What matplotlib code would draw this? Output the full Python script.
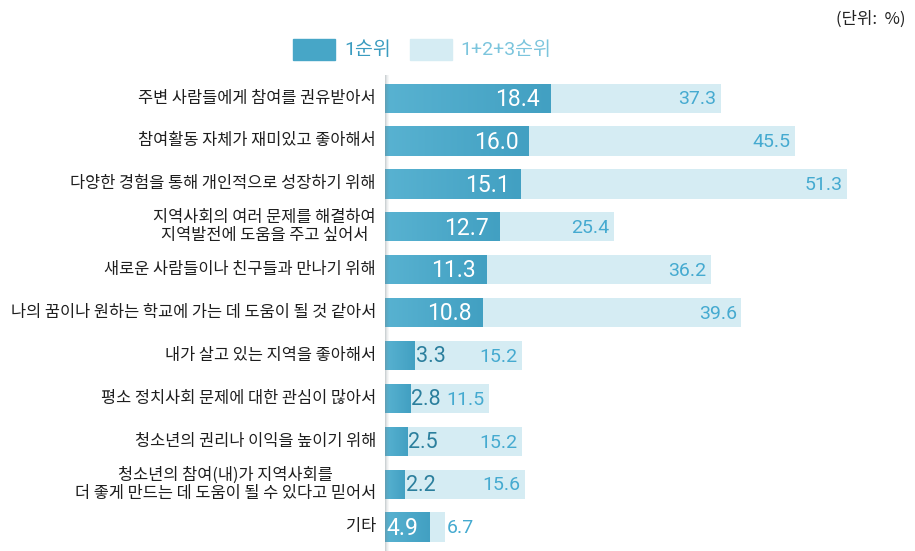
import matplotlib.pyplot as plt
import numpy as np

plt.rcParams['font.family'] = ['Noto Sans CJK KR', 'DejaVu Sans']

# ── Données ──────────────────────────────────────────────────────────────────
categories = [
    "주변 사람들에게 참여를 권유받아서",
    "참여활동 자체가 재미있고 좋아해서",
    "다양한 경험을 통해 개인적으로 성장하기 위해",
    "지역사회의 여러 문제를 해결하여\n지역발전에 도움을 주고 싶어서",
    "새로운 사람들이나 친구들과 만나기 위해",
    "나의 꿈이나 원하는 학교에 가는 데 도움이 될 것 같아서",
    "내가 살고 있는 지역을 좋아해서",
    "평소 정치사회 문제에 대한 관심이 많아서",
    "청소년의 권리나 이익을 높이기 위해",
    "청소년의 참여(내)가 지역사회를\n더 좋게 만드는 데 도움이 될 수 있다고 믿어서",
    "기타",
]
rank1 = [18.4, 16.0, 15.1, 12.7, 11.3, 10.8, 3.3, 2.8, 2.5, 2.2, 4.9]
rank123 = [37.3, 45.5, 51.3, 25.4, 36.2, 39.6, 15.2, 11.5, 15.2, 15.6, 6.7]
series_names = ["1순위", "1+2+3순위"]
unit_label = "(단위:  %)"

# ── Style ────────────────────────────────────────────────────────────────────
DARK = "#47a6c7"
LIGHT = "#d5ecf3"
DARK_TXT = "#2b7f9d"
LIGHT_TXT = "#45aad0"
NUM_FONT = dict(family=["Roboto", "Noto Sans CJK KR", "DejaVu Sans"], weight="normal")

fig = plt.figure(figsize=(9.15, 5.51), dpi=100)
ax = fig.add_axes([385 / 915, 0, 530 / 915, 476 / 551])

y = np.arange(len(categories))
bar_h = 0.68

ax.barh(y, rank123, height=bar_h, color=LIGHT, zorder=1)
bars = ax.barh(y, rank1, height=bar_h, color=DARK, zorder=2)

# dégradé léger sur les barres 1순위
grad = np.linspace(0, 1, 64).reshape(1, -1)
cmap = plt.matplotlib.colors.LinearSegmentedColormap.from_list(
    "bar", ["#58b2d1", "#42a0c2"])
for b in bars:
    x0, yb, w, h = b.get_x(), b.get_y(), b.get_width(), b.get_height()
    im = ax.imshow(grad, cmap=cmap, aspect="auto", zorder=2.5,
                   extent=(x0, x0 + w, yb + h, yb))
    im.set_clip_path(b)

# ombre verticale à gauche de l'axe
for i, a in enumerate([0.35, 0.22, 0.12, 0.06]):
    ax.axvspan(i * 0.11, (i + 1) * 0.11, color="#6f7f86", alpha=a, zorder=3, lw=0)

for yi, v1, v3 in zip(y, rank1, rank123):
    if v3 - v1 > 5:
        ax.text(v3 - 0.5, yi + 0.03, f"{v3:.1f}", ha="right", va="center",
                fontsize=14, color=LIGHT_TXT, zorder=4, **NUM_FONT)
    else:
        ax.text(v3 + 0.2, yi + 0.03, f"{v3:.1f}", ha="left", va="center",
                fontsize=14, color=LIGHT_TXT, zorder=4, **NUM_FONT)
    if v1 >= 4.5:
        ax.text(v1 - 1.2, yi + 0.03, f"{v1:.1f}", ha="right", va="center",
                fontsize=16.5, color="white", zorder=4, **NUM_FONT)
    else:
        ax.text(v1 + 0.1, yi + 0.03, f"{v1:.1f}", ha="left", va="center",
                fontsize=15.5, color=DARK_TXT, zorder=4, **NUM_FONT)

ax.set_ylim(len(categories) - 0.44, -0.54)
ax.set_xlim(0, 530 / 9.0)
ax.set_axis_off()

for yi, cat in zip(y, categories):
    fig.text(376 / 915, 1 - (98 + yi * 42.9) / 551, cat, ha="right",
             va="center", multialignment="center", fontsize=11.8,
             weight="medium", color="#1e1e1e", linespacing=1.1)

# Légende
fig.patches.append(plt.Rectangle((293 / 915, 1 - 60 / 551), 42 / 915, 21 / 551,
                                 transform=fig.transFigure, color=DARK))
fig.patches.append(plt.Rectangle((410 / 915, 1 - 60 / 551), 42 / 915, 21 / 551,
                                 transform=fig.transFigure, color=LIGHT))
fig.text(344 / 915, 1 - 50 / 551, series_names[0], ha="left", va="center",
         fontsize=14, color="#3b9cc0", **NUM_FONT)
fig.text(460 / 915, 1 - 50 / 551, series_names[1], ha="left", va="center",
         fontsize=14, color="#7cc5dd", **NUM_FONT)

fig.text(905 / 915, 1 - 19 / 551, unit_label, ha="right", va="center",
         fontsize=12, color="#222222")

fig.savefig("out.png", dpi=100)
